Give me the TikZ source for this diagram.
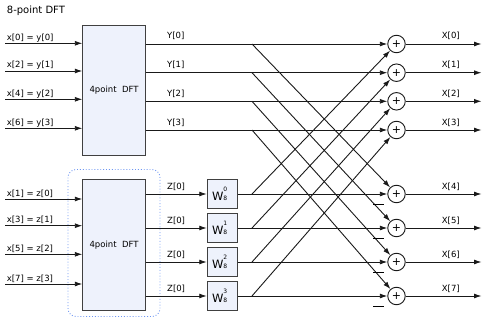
\documentclass[tikz,border=0pt]{standalone}
\usepackage{fontspec}
\setmainfont{DejaVu Sans}
\usetikzlibrary{arrows.meta}
\definecolor{boxfill}{HTML}{EEF2FC}
\definecolor{dotblue}{HTML}{6E96F2}
\newcommand\lblfont{\fontsize{8.5}{10}\selectfont}
\newcommand\smalldigit[1]{{\fontsize{6}{6}\selectfont #1}}
\newcommand\twiddle[1]{{\fontsize{11.5}{12}\selectfont W}\rlap{\raisebox{8.6pt}{\smalldigit{#1}}}\smalldigit{8}\kern5pt}
\tikzset{
  wire/.style={draw=black!90, line width=0.9pt},
  arr/.style={wire, -{Latex[length=7.5pt,width=5pt]}},
  dftbox/.style={draw=black!75, fill=boxfill, line width=0.9pt, inner sep=0,
                 minimum width=62.5pt, minimum height=130pt, font=\lblfont},
  wbox/.style={draw=black!75, fill=boxfill, line width=0.9pt, inner sep=0,
               minimum width=30pt, minimum height=29.4pt},
  adder/.style={circle, draw=black!90, line width=0.9pt, inner sep=0,
                minimum size=17.5pt, font=\fontsize{11}{11}\selectfont},
  lbl/.style={font=\lblfont, anchor=base west, inner sep=0},
  group/.style={draw=dotblue, dotted, line width=0.9pt, rounded corners=8pt},
}
\begin{document}
\begin{tikzpicture}[x=1pt,y=-1pt]
\useasboundingbox (0,0) rectangle (482,321);

% title
\node[lbl, font=\fontsize{10}{12}\selectfont] (title) at (6.7,13.5) {8-point DFT};

% grouping frame around the odd-index half
\draw[group] (68,169.5) rectangle (160,316.5);

% the two 4-point transforms
\node[dftbox] (dftA) at (114,90) {4point\ \ DFT};
\node[dftbox, minimum height=130.5pt] (dftB) at (114,244.75) {4point\ \ DFT};

% inputs
\foreach \i/\y/\t in {0/43.3/{x[0] = y[0]},1/71/{x[2] = y[1]},2/99.3/{x[4] = y[2]},3/128.3/{x[6] = y[3]}}{
  \coordinate (inA\i) at (5,\y);
  \node[lbl] (inAl\i) at (6.7,\y-3) {\t};
  \draw[arr] (inA\i) -- (inA\i -| dftA.west);
}
\foreach \i/\y/\t in {0/199/{x[1] = z[0]},1/225.7/{x[3] = z[1]},2/254.3/{x[5] = z[2]},3/284/{x[7] = z[3]}}{
  \coordinate (inB\i) at (5,\y);
  \node[lbl] (inBl\i) at (6.7,\y-3) {\t};
  \draw[arr] (inB\i) -- (inB\i -| dftB.west);
}

% adders and branch points
\foreach \k/\y in {0/44,1/72.7,2/101.3,3/130,4/194,5/228,6/262,7/296}{
  \node[adder] (p\k) at (396.5,\y) {+};
  \coordinate (b\k) at (252,\y);
  \coordinate (o\k) at (481.5,\y);
}

% twiddle factors
\foreach \k/\y in {0/194,1/228,2/262,3/296}{
  \node[wbox] (w\k) at (222.2,\y) {\twiddle{\k}};
}

% first half outputs Y[k]
\foreach \k in {0,1,2,3}{
  \node[lbl] (yl\k) at (167,0 |- p\k) [yshift=5pt] {Y[\k]};
  \draw[arr] (dftA.east |- p\k) -- (p\k);
}

% second half outputs Z[k] into the twiddle boxes
\foreach \k in {0,1,2,3}{
  \node[lbl] (zl\k) at (167,0 |- w\k) [yshift=5pt] {Z[0]};
  \draw[arr] (dftB.east |- w\k) -- (w\k);
}

% butterfly
\foreach \k/\m in {0/4,1/5,2/6,3/7}{
  \draw[arr] (w\k.east) -- (p\m);
  \draw[arr] (b\k) -- (p\m);
  \draw[arr] (b\m) -- (p\k);
}

% minus marks on the lower adders
\foreach \k in {4,5,6,7}{
  \node[inner sep=0] (m\k) at ([xshift=-18pt,yshift=-10pt]p\k) {\rule{11pt}{0.9pt}};
}

% outputs X[k]
\foreach \k in {0,...,7}{
  \node[lbl] (xl\k) at (441.7,0 |- p\k) [yshift=5pt] {X[\k]};
  \draw[arr] (p\k) -- (o\k);
}
\end{tikzpicture}
\end{document}
